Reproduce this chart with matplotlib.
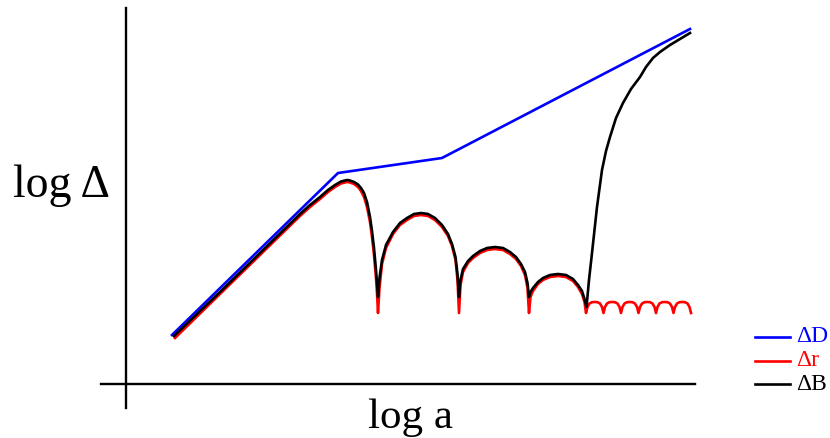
import matplotlib.pyplot as plt

plt.rcParams['font.family'] = ['Liberation Serif', 'DejaVu Serif']

# log a / log Delta values (arbitrary units)
blue_x = [172, 338, 442, 690]
blue_y = [103, 265, 280, 409]

red_x = [175, 220, 260, 300, 310, 320, 328, 335, 341, 347, 350, 354, 358, 361, 364, 367,
         370, 372, 374, 376, 377, 378,
         379.5, 382, 386, 393, 400, 407, 414, 421, 428, 435, 442, 448, 452, 455.5, 457.5, 459,
         460.5, 463, 468, 473, 480, 487, 495, 503, 510, 516, 521, 525, 527.5, 529,
         530.5, 533, 538, 543, 550, 558, 566, 573, 578, 582, 584.5, 586]
red_y = [100, 144, 183, 222, 231, 239, 246, 251, 254.5, 256, 255.5, 254, 251, 247, 241, 231,
         216, 201, 183, 160, 145, 125,
         150, 174, 190, 204, 213, 218, 222, 223, 222, 218, 211, 202, 192, 178, 158, 125,
         153, 166, 175, 180, 185, 188, 189, 188, 184, 179, 172, 163, 150, 125,
         141, 147, 154, 158, 161, 162, 161, 157, 151, 144, 136, 125]

# small ripples of delta r after the last dip
ripple_x = [587.5, 589.5, 592, 594.75, 597.5, 600, 602, 603.5,
            605, 607, 609.5, 612.25, 615, 617.5, 619.5, 621,
            622.5, 624.5, 627, 629.75, 632.5, 635, 637, 638.5,
            640, 642, 644.5, 647.25, 650, 652.5, 654.5, 656,
            657.5, 659.5, 662, 664.75, 667.5, 670, 672, 673.5,
            675, 677, 679.5, 682.25, 685, 687.5, 689.5, 691]
ripple_y = [131, 134.5, 135.8, 136, 135.8, 134.5, 131, 125,
            131, 134.5, 135.8, 136, 135.8, 134.5, 131, 125,
            131, 134.5, 135.8, 136, 135.8, 134.5, 131, 125,
            131, 134.5, 135.8, 136, 135.8, 134.5, 131, 125,
            131, 134.5, 135.8, 136, 135.8, 134.5, 131, 125,
            131, 134.5, 135.8, 136, 135.8, 134.5, 131, 125]

black_x = [174, 220, 260, 300, 310, 320, 328, 335, 341, 347, 350, 354, 358, 361, 364, 367,
           370, 372, 374, 376, 377, 378,
           379.5, 382, 386, 393, 400, 407, 414, 421, 428, 435, 442, 448, 452, 455.5, 457.5, 459,
           460.5, 463, 468, 473, 480, 487, 495, 503, 510, 516, 521, 525, 527.5, 529,
           530.5, 533, 538, 543, 550, 558, 566, 573, 578, 582, 584.5, 586.5,
           589, 592, 597, 602, 606, 610, 616, 623, 631, 640, 646, 653, 660, 670, 680, 690]
black_y = [102, 146, 185, 224, 233, 241, 248, 253, 256.5, 258, 257.5, 256, 253.5, 250, 245, 236,
           221, 207, 190, 168, 155, 141,
           160, 178, 193, 206, 215, 220, 224, 225, 224, 220, 213, 204, 194, 181, 164, 141,
           158, 169, 177, 182, 187, 190, 191, 190, 186, 181, 174, 166, 155, 141,
           146, 150, 156, 160, 163, 164, 163, 159, 153, 147, 139, 131,
           158, 185, 231, 268, 287, 301, 320, 335, 349, 361, 371, 380, 386, 393, 399, 405]

labels = ['\u0394D', '\u0394r', '\u0394B']
colors = ['#0000ff', '#ff0000', '#000000']

fig = plt.figure(figsize=(8.3, 4.38), dpi=100)
ax = fig.add_axes([0, 0, 1, 1])
ax.set_xlim(0, 830)
ax.set_ylim(0, 438)
ax.axis('off')

lw = 1.9
# hand-drawn style axes
ax.plot([125.5, 125.5], [30, 430], color='black', lw=1.7)
ax.plot([101, 695], [54, 54], color='black', lw=1.7)

ax.plot(blue_x, blue_y, color=colors[0], lw=lw)
ax.plot(red_x + ripple_x, red_y + ripple_y, color=colors[1], lw=lw)
ax.plot(black_x, black_y, color=colors[2], lw=lw)

ax.text(13, 241, 'log \u0394', fontsize=33, ha='left', va='baseline')
ax.text(410, 10, 'log a', fontsize=31, ha='center', va='baseline')

# legend
for i, (lab, c) in enumerate(zip(labels, colors)):
    yy = 101 - i * 23.5
    ax.plot([755, 790], [yy, yy], color=c, lw=lw)
    ax.text(796, yy, lab, color=c, fontsize=17, ha='left', va='center')

plt.savefig('out.png', dpi=100)
plt.close()
